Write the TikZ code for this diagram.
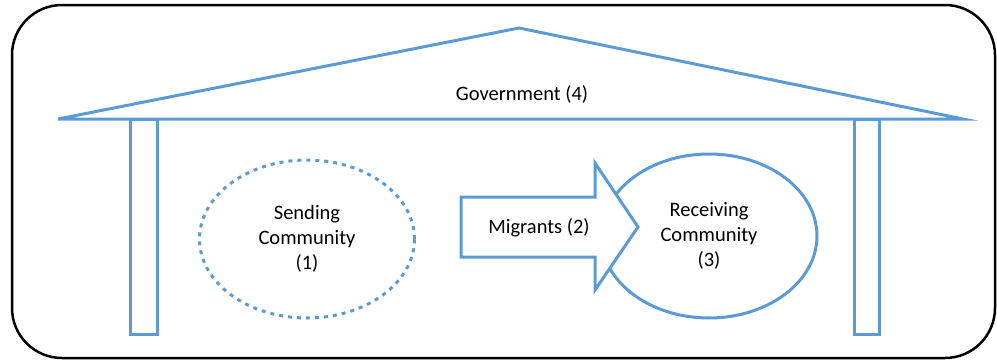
\documentclass[tikz,border=0pt]{standalone}
\usepackage{fontspec}
\setmainfont{Carlito}
\usepackage{tikz}
\usetikzlibrary{shapes.geometric,positioning}
\definecolor{houseblue}{RGB}{91,155,213}

\begin{document}
\begin{tikzpicture}
[x=1pt,y=-1pt,line width=3pt,
txt/.style = {align=center, font=\fontsize{20.5}{25}\selectfont},
community/.style = {draw=houseblue, ellipse, inner sep=0pt, txt},
pillar/.style = {draw=houseblue},]
\useasboundingbox (0,0) rectangle (997,362);
\draw[line width=2.5pt, rounded corners=50pt] (12,5) rectangle (995,358);
% roof and pillars
\coordinate (L) at (58,119);
\coordinate (T) at (519,28);
\coordinate (R) at (963,119);
\draw[houseblue] (L)--(T)--(R)--cycle;
\draw[pillar] (130,119) rectangle (157,334);
\draw[pillar] (854,119) rectangle (879,334);
\node (gov) at (522,94)[txt] {Government (4)};
\node (send) at (307,239)[community,dash pattern=on 4pt off 5pt,minimum width=215pt,minimum height=158pt] {Sending\\Community\\(1)};
\node (recv) at (709,236)[community,minimum width=216pt,minimum height=164pt] {Receiving\\Community\\(3)};
\draw[houseblue,fill=white] (461,197)--(595,197)--(595,163)--(638,227)--(595,290)--(595,257)--(461,257)--cycle;
\node (mig) at (539,228)[txt] {Migrants (2)};
\end{tikzpicture}
\end{document}
